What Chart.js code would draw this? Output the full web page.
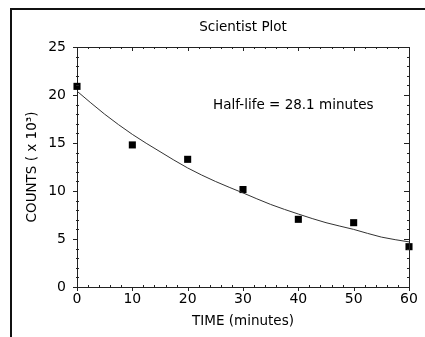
<!DOCTYPE html>
<html lang="en">
<head>
  <meta charset="UTF-8">
  <title>Scientist Plot</title>
  <script src="https://cdn.jsdelivr.net/npm/chart.js"></script>
  <style>
    body {
      margin: 0;
      background: #fff;
    }
    canvas {
      display: block;
    }
  </style>
</head>
<body>
  <canvas id="plot" width="425" height="337"></canvas>

  <script>
    // measured points
    const times = [0, 10, 20, 30, 40, 50, 60];
    const counts = [20.9, 14.8, 13.3, 10.15, 7.05, 6.7, 4.2];

    // fitted decay curve, every 5 minutes
    const fitTimes = [0, 5, 10, 15, 20, 25, 30, 35, 40, 45, 50, 55, 60];
    const fitCounts = [20.4, 18.0, 15.9, 14.1, 12.4, 11.0, 9.8, 8.6, 7.6, 6.7, 6.0, 5.2, 4.7];

    const xTicks = [0, 10, 20, 30, 40, 50, 60];
    const yTicks = [0, 5, 10, 15, 20, 25];
    const xMinor = [2, 4, 6, 8, 12, 14, 16, 18, 22, 24, 26, 28, 32, 34, 36, 38, 42, 44, 46, 48, 52, 54, 56, 58];
    const yMinor = [1, 2, 3, 4, 6, 7, 8, 9, 11, 12, 13, 14, 16, 17, 18, 19, 21, 22, 23, 24];

    const plotTitle = "Scientist Plot";
    const note = "Half-life = 28.1 minutes";
    const noteAt = { x: 24.6, y: 18.9 };

    const FONT = "'DejaVu Sans', Arial, sans-serif";
    const INK = "#222";

    const framePlugin = {
      id: "frame",
      beforeDraw(chart) {
        const c = chart.ctx;
        c.save();
        c.fillStyle = "#fff";
        c.fillRect(0, 0, chart.width, chart.height);
        c.strokeStyle = "#111";
        c.lineWidth = 2;
        c.beginPath();
        c.moveTo(11, chart.height);
        c.lineTo(11, 9);
        c.lineTo(chart.width, 9);
        c.stroke();
        c.restore();
      }
    };

    // top / right axis lines, the little ticks, title and note
    const ticksPlugin = {
      id: "boxTicks",
      afterDraw(chart) {
        const c = chart.ctx;
        const xs = chart.scales.x, ys = chart.scales.y;
        const a = chart.chartArea;
        c.save();
        c.strokeStyle = INK;
        c.lineWidth = 1;
        c.beginPath();
        c.moveTo(a.left, a.top + 0.5);
        c.lineTo(a.right + 0.5, a.top + 0.5);
        c.lineTo(a.right + 0.5, a.bottom);
        c.stroke();

        c.beginPath();
        xTicks.forEach(v => {
          const px = Math.round(xs.getPixelForValue(v)) + 0.5;
          c.moveTo(px, a.bottom); c.lineTo(px, a.bottom + 4);
          c.moveTo(px, a.top); c.lineTo(px, a.top + 4);
        });
        xMinor.forEach(v => {
          const px = Math.round(xs.getPixelForValue(v)) + 0.5;
          c.moveTo(px, a.bottom); c.lineTo(px, a.bottom - 2);
          c.moveTo(px, a.top); c.lineTo(px, a.top + 2);
        });
        yTicks.forEach(v => {
          const py = Math.round(ys.getPixelForValue(v)) + 0.5;
          c.moveTo(a.left, py); c.lineTo(a.left - 4, py);
          c.moveTo(a.right, py); c.lineTo(a.right - 5, py);
        });
        yMinor.forEach(v => {
          const py = Math.round(ys.getPixelForValue(v)) + 0.5;
          c.moveTo(a.left - 1, py); c.lineTo(a.left + 2, py);
          c.moveTo(a.right, py); c.lineTo(a.right - 2, py);
        });
        c.stroke();

        c.fillStyle = "#000";
        c.font = "13.5px " + FONT;
        c.textBaseline = "middle";
        c.textAlign = "center";
        c.fillText(plotTitle, (a.left + a.right) / 2, 27);
        c.textAlign = "left";
        c.fillText(note, xs.getPixelForValue(noteAt.x), ys.getPixelForValue(noteAt.y));
        c.restore();
      }
    };

    const chart = new Chart(document.getElementById("plot"), {
      type: "scatter",
      data: {
        datasets: [
          {
            label: "fit",
            data: fitTimes.map((t, i) => ({ x: t, y: fitCounts[i] })),
            showLine: true,
            borderColor: "#333",
            borderWidth: 1,
            pointRadius: 0,
            cubicInterpolationMode: "monotone"
          },
          {
            label: "counts",
            data: times.map((t, i) => ({ x: t, y: counts[i] })),
            pointStyle: "rect",
            pointRadius: 5,
            backgroundColor: "#000",
            borderColor: "#000",
            borderWidth: 0,
            clip: false
          }
        ]
      },
      options: {
        responsive: false,
        animation: false,
        layout: { padding: { left: 0, right: 16, top: 47, bottom: 0 } },
        plugins: {
          legend: { display: false },
          tooltip: { enabled: false },
          title: { display: false }
        },
        scales: {
          x: {
            type: "linear",
            min: 0,
            max: 60,
            afterFit(s) { s.height = 50; },
            border: { display: true, color: INK, width: 1 },
            grid: { display: false, drawTicks: false },
            ticks: {
              stepSize: 10,
              color: "#000",
              padding: 4,
              font: { family: FONT, size: 14 }
            },
            title: {
              display: true,
              text: "TIME (minutes)",
              color: "#000",
              font: { family: FONT, size: 13.5 },
              padding: { top: 0, bottom: 7 }
            }
          },
          y: {
            min: 0,
            max: 25,
            afterFit(s) { s.width = 77; },
            border: { display: true, color: INK, width: 1 },
            grid: { display: false, drawTicks: false },
            ticks: {
              stepSize: 5,
              color: "#000",
              padding: 11,
              font: { family: FONT, size: 14 }
            },
            title: {
              display: true,
              text: "COUNTS ( x 10³)",
              color: "#000",
              font: { family: FONT, size: 13.5 },
              padding: { top: 24, bottom: 0 }
            }
          }
        }
      },
      plugins: [framePlugin, ticksPlugin]
    });
  </script>
</body>
</html>
